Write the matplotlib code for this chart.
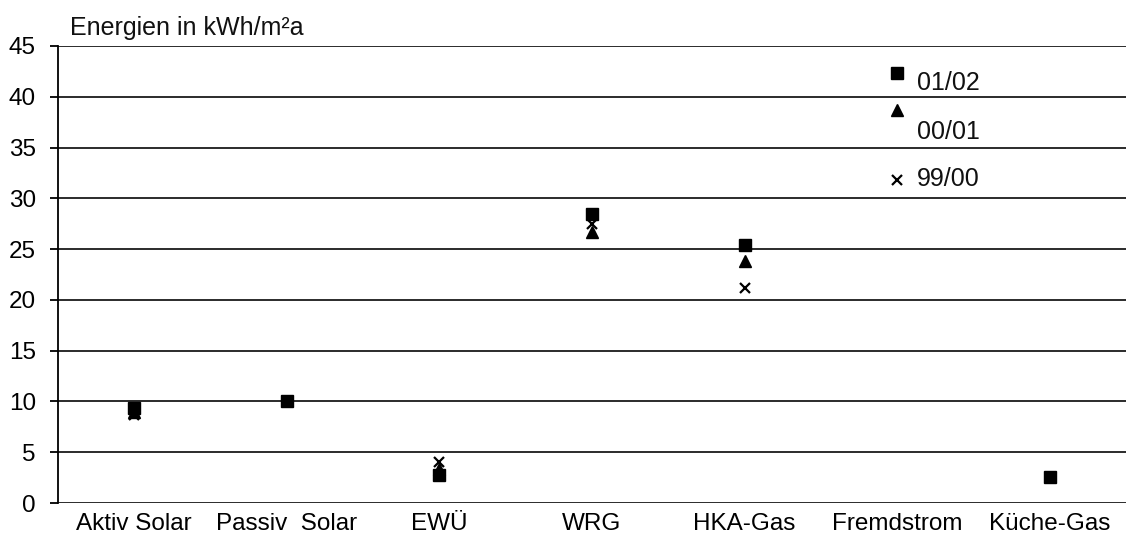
import matplotlib
matplotlib.use("Agg")
import matplotlib.pyplot as plt
import numpy as np

plt.rcParams['font.family'] = ['Liberation Sans', 'DejaVu Sans']

categories = ["Aktiv Solar", "Passiv  Solar", "EWÜ", "WRG", "HKA-Gas", "Fremdstrom", "Küche-Gas"]
series_names = ["01/02", "00/01", "99/00"]
s_0102 = [9.4, 10.0, 2.8, 28.5, 25.4, 42.3, 2.6]
s_0001 = [9.0, np.nan, 3.3, 26.7, 23.8, 38.7, np.nan]
s_9900 = [8.7, np.nan, 4.0, 27.5, 21.2, 31.8, np.nan]
label_y = [41.4, 36.5, 31.9]
yticks = list(range(0, 50, 5))

fig = plt.figure(figsize=(11.26, 5.42), dpi=100)
ax = fig.add_axes([58/1126, 1-503/542, 1068/1126, (503-46)/542])

x = np.arange(len(categories))
ax.plot(x, s_9900, linestyle='none', marker='x', color='black', markersize=7, markeredgewidth=1.6, zorder=3)
ax.plot(x, s_0001, linestyle='none', marker='^', color='black', markersize=9, zorder=4)
ax.plot(x, s_0102, linestyle='none', marker='s', color='black', markersize=9, zorder=5)

fs = 18
for name, yy in zip(series_names, label_y):
    ax.text(5.13, yy, name, fontsize=fs, va='center', ha='left', color='#111111')

ax.set_xlim(-0.5, 6.5)
ax.set_ylim(0, 45)
ax.set_yticks(yticks)
ax.set_xticks(x)
ax.set_xticklabels(categories, fontsize=17.5)
ax.tick_params(axis='x', length=0, pad=7)
ax.tick_params(axis='y', length=6, width=1.3, pad=10, labelsize=17.5, direction='out')
ax.yaxis.grid(True, color='#1a1a1a', linewidth=1.3)
ax.set_axisbelow(True)
for s in ['top', 'right', 'bottom']:
    ax.spines[s].set_visible(False)
ax.spines['left'].set_linewidth(1.3)

fig.text(70/1126, 1-28/542, "Energien in kWh/m²a", fontsize=fs, ha='left', va='center', color='#111111')

fig.savefig("out.png", dpi=100)
